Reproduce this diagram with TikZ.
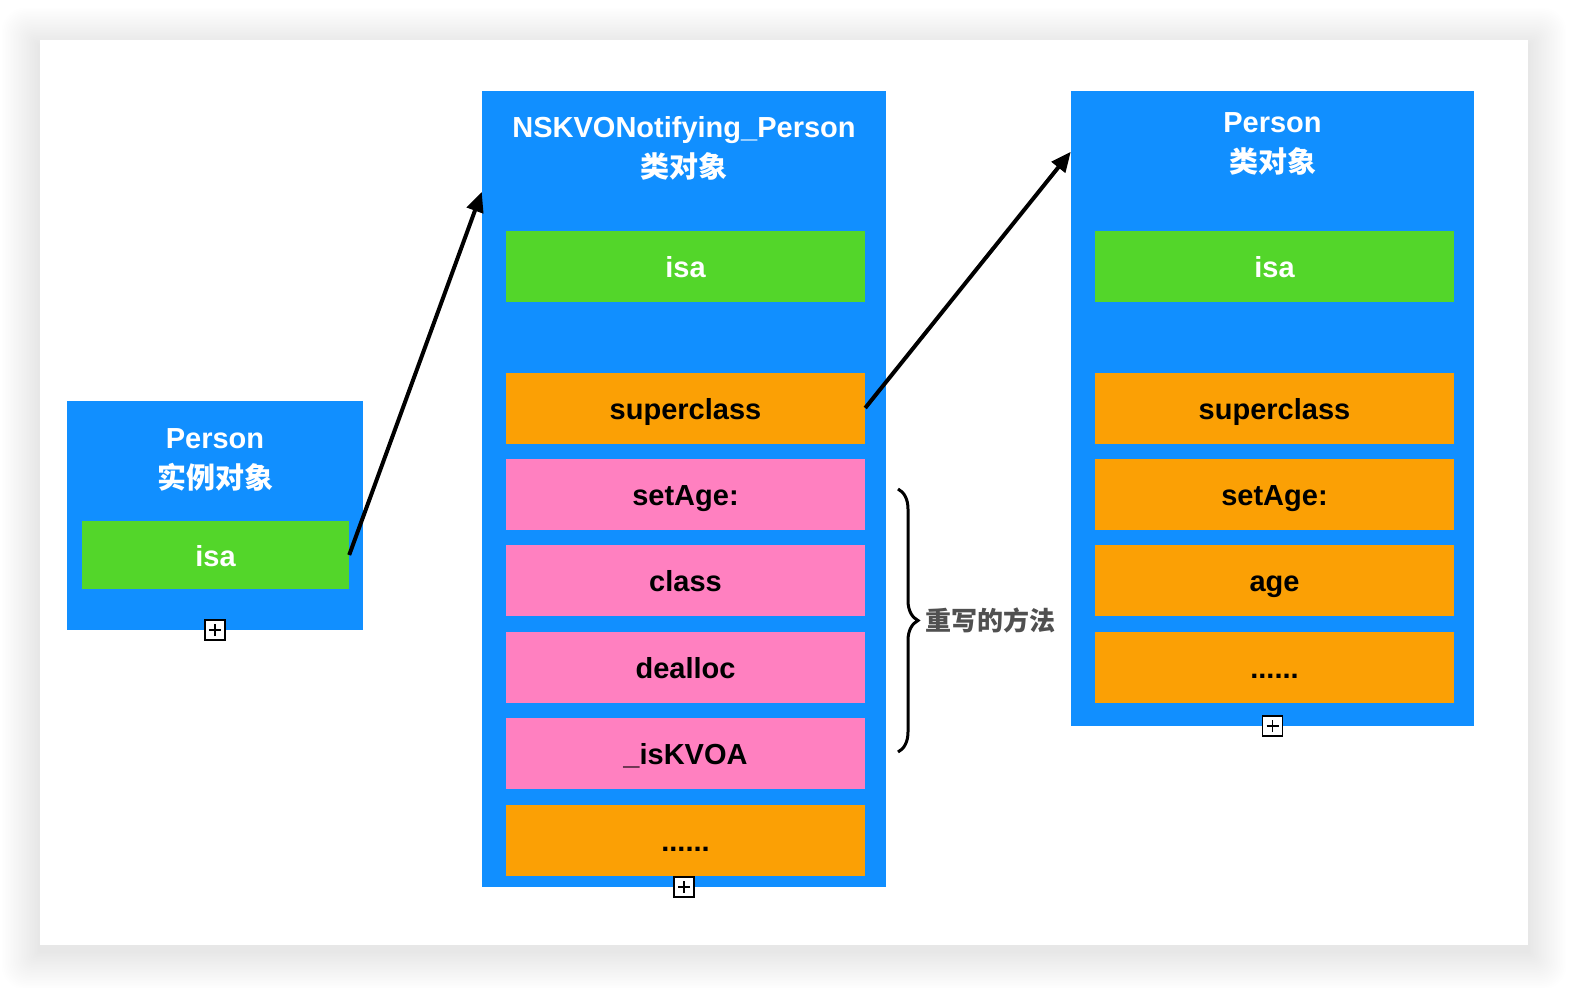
\documentclass[tikz,border=0pt]{standalone}
\usepackage{fontspec}
\setmainfont{Liberation Sans}
\newfontfamily\cjk{Noto Sans CJK SC}
\usepackage{xcolor}
\usetikzlibrary{positioning,arrows.meta,decorations.pathreplacing}
\definecolor{boxblue}{RGB}{17,143,255}
\definecolor{isagreen}{RGB}{83,214,42}
\definecolor{slotorange}{RGB}{251,160,5}
\definecolor{slotpink}{RGB}{255,128,192}
\definecolor{notegray}{RGB}{80,80,80}
\tikzset{
  classbox/.style={fill=boxblue,inner sep=0pt},
  slot/.style={minimum width=359pt,minimum height=71pt,inner sep=0pt,text=black,text height=25pt,text depth=3pt},
  isaslot/.style={slot,fill=isagreen,text=white},
  superslot/.style={slot,fill=slotorange},
  newslot/.style={slot,fill=slotpink},
  title/.style={text=white,align=center},
  expander/.style={draw,line width=1.5pt,fill=white,minimum size=20pt,inner sep=0pt,
    path picture={\draw[line width=1.5pt]
      ([xshift=-6pt]path picture bounding box.center) -- ([xshift=6pt]path picture bounding box.center)
      ([yshift=-6pt]path picture bounding box.center) -- ([yshift=6pt]path picture bounding box.center);}},
  link/.style={line width=4pt,-{Triangle[length=20pt,width=17pt]}}
}
\begin{document}
\begin{tikzpicture}[x=1pt,y=-1pt,font=\fontsize{29}{40}\selectfont\bfseries,node distance=15pt]
  \useasboundingbox[fill=white] (0,0) rectangle (1572,988);
  % card with soft shadow
  \foreach \s in {1,...,24}
    \fill[black,opacity=0.005,rounded corners=\s pt] ({40-1.6*\s},{46-1.6*\s}) rectangle ({1528+1.6*\s},{951+1.6*\s});
  \fill[white] (40,40) rectangle (1528,945);

  % instance object
  \node[classbox,minimum width=296pt,minimum height=229pt] (inst) at (215,515.5) {};
  \node[title] (inst-title) at ([yshift=-59pt]inst.north) {Person\\{\cjk 实例对象}};
  \node[isaslot,minimum width=267pt,minimum height=68pt] (inst-isa) at (215.5,555) {isa};
  \node[expander] (inst-more) at (inst.south) {};

  % NSKVONotifying_Person class object
  \node[classbox,minimum width=404pt,minimum height=796pt] (kvo) at (684,489) {};
  \node[title] (kvo-title) at ([yshift=-58pt]kvo.north) {NSKVONotifying\_Person\\{\cjk 类对象}};
  \node[isaslot] (kvo-isa) at (685.5,266.5) {isa};
  \node[superslot] (kvo-super) at (685.5,408) {superclass};
  \node[newslot,below=of kvo-super] (kvo-setage) {setAge:};
  \node[newslot,below=of kvo-setage] (kvo-class) {class};
  \node[newslot,below=of kvo-class] (kvo-dealloc) {dealloc};
  \node[newslot,below=of kvo-dealloc] (kvo-iskvoa) {\_isKVOA};
  \node[superslot,below=of kvo-iskvoa] (kvo-etc) {......};
  \node[expander] (kvo-more) at (kvo.south) {};

  % Person class object
  \node[classbox,minimum width=403pt,minimum height=635pt] (cls) at (1272.5,408.5) {};
  \node[title] (cls-title) at ([yshift=-53pt]cls.north) {Person\\{\cjk 类对象}};
  \node[isaslot] (cls-isa) at (1274.5,266.5) {isa};
  \node[superslot] (cls-super) at (1274.5,408) {superclass};
  \node[superslot,below=of cls-super] (cls-setage) {setAge:};
  \node[superslot,below=of cls-setage] (cls-age) {age};
  \node[superslot,below=of cls-age] (cls-etc) {......};
  \node[expander] (cls-more) at (cls.south) {};

  % isa / superclass pointers
  \draw[link] (inst-isa.east) -- ([yshift=-101pt]kvo.north west);
  \draw[link] (kvo-super.east) -- ([yshift=-61pt]cls.north west);

  % overridden methods
  \coordinate (brace-top) at (898,489);
  \coordinate (brace-bot) at (898,752);
  \draw[decorate,decoration={brace,amplitude=20pt},line width=3pt] (brace-top) -- (brace-bot)
    node[midway,right=23pt,text=notegray,font=\fontsize{26}{30}\selectfont\bfseries\cjk] (note) {重写的方法};
\end{tikzpicture}
\end{document}
